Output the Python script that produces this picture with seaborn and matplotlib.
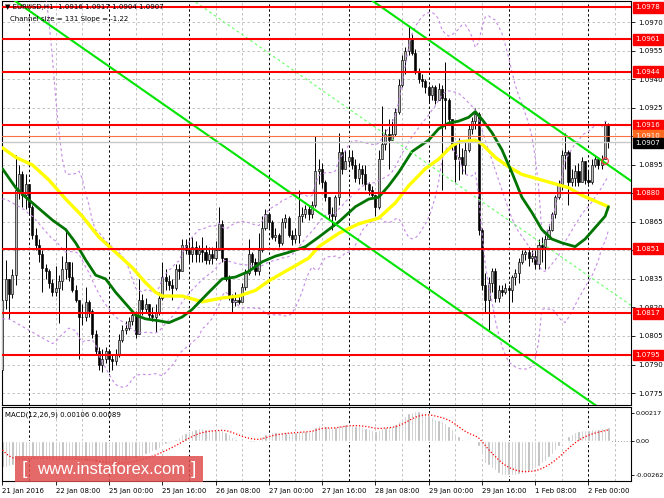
import numpy as np
import pandas as pd
import matplotlib
matplotlib.use("Agg")
import matplotlib.pyplot as plt
import matplotlib.transforms as mtransforms
from matplotlib.patches import Rectangle
import seaborn as sns

# EURUSD H1 candles, one per hour (bar 0 = 21 Jan 16:00)
first_open = 1.0787
closes = [
    1.0824, 1.0835, 1.0827, 1.0837, 1.0882, 1.0890, 1.0879, 1.0885, 1.0873, 1.0858,
    1.0853, 1.0848, 1.0841, 1.0839, 1.0833, 1.0828, 1.0830, 1.0834, 1.0840, 1.0844,
    1.0836, 1.0829, 1.0824, 1.0815, 1.0815, 1.0823, 1.0818, 1.0806, 1.0797, 1.0790,
    1.0793, 1.0797, 1.0793, 1.0792, 1.0795, 1.0803, 1.0808, 1.0809, 1.0813, 1.0816,
    1.0806, 1.0824, 1.0819, 1.0822, 1.0816, 1.0815, 1.0817, 1.0825, 1.0836, 1.0834,
    1.0832, 1.0830, 1.0840, 1.0839, 1.0853, 1.0850, 1.0848, 1.0852, 1.0848, 1.0850,
    1.0849, 1.0845, 1.0848, 1.0846, 1.0850, 1.0864, 1.0846, 1.0835, 1.0826, 1.0823,
    1.0824, 1.0823, 1.0831, 1.0838, 1.0848, 1.0844, 1.0839, 1.0850, 1.0862, 1.0869,
    1.0865, 1.0857, 1.0858, 1.0854, 1.0865, 1.0867, 1.0858, 1.0856, 1.0858, 1.0868,
    1.0869, 1.0872, 1.0869, 1.0874, 1.0892, 1.0893, 1.0886, 1.0878, 1.0869, 1.0868,
    1.0878, 1.0902, 1.0893, 1.0897, 1.0899, 1.0895, 1.0888, 1.0893, 1.0890, 1.0885,
    1.0882, 1.0879, 1.0873, 1.0898, 1.0906, 1.0911, 1.0908, 1.0911, 1.0923, 1.0937,
    1.0950, 1.0955, 1.0961, 1.0954, 1.0944, 1.0940, 1.0939, 1.0936, 1.0932, 1.0936,
    1.0929, 1.0935, 1.0930, 1.0929, 1.0919, 1.0906, 1.0898, 1.0899, 1.0895, 1.0903,
    1.0914, 1.0918, 1.0922, 1.0861, 1.0832, 1.0824, 1.0833, 1.0839, 1.0825, 1.0829,
    1.0828, 1.0830, 1.0829, 1.0836, 1.0838, 1.0844, 1.0848, 1.0849, 1.0846, 1.0847,
    1.0843, 1.0853, 1.0852, 1.0856, 1.0861, 1.0869, 1.0878, 1.0885, 1.0900, 1.0902,
    1.0886, 1.0888, 1.0892, 1.0886, 1.0897, 1.0887, 1.0886, 1.0895, 1.0898, 1.0895,
    1.0898, 1.0916, 1.0907,
]
highs = [
    1.0848, 1.0845, 1.0835, 1.0840, 1.0900, 1.0895, 1.0892, 1.0890, 1.0885, 1.0874,
    1.0862, 1.0856, 1.0850, 1.0843, 1.0840, 1.0835, 1.0842, 1.0837, 1.0847, 1.0861,
    1.0844, 1.0844, 1.0832, 1.0824, 1.0822, 1.0831, 1.0824, 1.0819, 1.0808, 1.0799,
    1.0798, 1.0799, 1.0798, 1.0795, 1.0798, 1.0806, 1.0811, 1.0813, 1.0815, 1.0818,
    1.0818, 1.0835, 1.0827, 1.0825, 1.0821, 1.0820, 1.0822, 1.0828, 1.0844, 1.0840,
    1.0837, 1.0835, 1.0843, 1.0843, 1.0856, 1.0856, 1.0856, 1.0857, 1.0855, 1.0853,
    1.0857, 1.0853, 1.0852, 1.0852, 1.0855, 1.0873, 1.0866, 1.0846, 1.0837, 1.0827,
    1.0828, 1.0826, 1.0833, 1.0840, 1.0856, 1.0849, 1.0846, 1.0859, 1.0868, 1.0872,
    1.0870, 1.0866, 1.0862, 1.0859, 1.0867, 1.0869, 1.0868, 1.0861, 1.0862, 1.0882,
    1.0873, 1.0874, 1.0874, 1.0876, 1.0910, 1.0898, 1.0896, 1.0887, 1.0878, 1.0873,
    1.0879, 1.0912, 1.0904, 1.0903, 1.0903, 1.0903, 1.0898, 1.0896, 1.0895, 1.0895,
    1.0886, 1.0884, 1.0878, 1.0903, 1.0926, 1.0914, 1.0919, 1.0919, 1.0925, 1.0940,
    1.0953, 1.0957, 1.0968, 1.0964, 1.0956, 1.0946, 1.0943, 1.0940, 1.0937, 1.0937,
    1.0937, 1.0938, 1.0937, 1.0949, 1.0930, 1.0919, 1.0906, 1.0909, 1.0904, 1.0908,
    1.0916, 1.0920, 1.0925, 1.0923, 1.0862, 1.0838, 1.0836, 1.0841, 1.0841, 1.0832,
    1.0832, 1.0833, 1.0832, 1.0837, 1.0840, 1.0846, 1.0850, 1.0850, 1.0852, 1.0850,
    1.0850, 1.0856, 1.0857, 1.0858, 1.0864, 1.0870, 1.0879, 1.0887, 1.0903, 1.0912,
    1.0903, 1.0893, 1.0895, 1.0896, 1.0899, 1.0895, 1.0892, 1.0898, 1.0900, 1.0899,
    1.0900, 1.0918, 1.0917,
]
lows = [
    1.0778, 1.0819, 1.0814, 1.0825, 1.0832, 1.0877, 1.0873, 1.0872, 1.0869, 1.0856,
    1.0850, 1.0844, 1.0828, 1.0835, 1.0830, 1.0826, 1.0826, 1.0812, 1.0829, 1.0835,
    1.0834, 1.0828, 1.0823, 1.0793, 1.0811, 1.0813, 1.0815, 1.0804, 1.0795, 1.0787,
    1.0786, 1.0791, 1.0786, 1.0787, 1.0790, 1.0794, 1.0802, 1.0806, 1.0808, 1.0811,
    1.0804, 1.0806, 1.0816, 1.0817, 1.0814, 1.0813, 1.0807, 1.0816, 1.0824, 1.0829,
    1.0829, 1.0824, 1.0829, 1.0835, 1.0839, 1.0848, 1.0844, 1.0844, 1.0844, 1.0844,
    1.0844, 1.0843, 1.0843, 1.0843, 1.0845, 1.0852, 1.0844, 1.0834, 1.0824, 1.0817,
    1.0821, 1.0822, 1.0823, 1.0829, 1.0837, 1.0841, 1.0837, 1.0837, 1.0849, 1.0861,
    1.0862, 1.0856, 1.0855, 1.0852, 1.0853, 1.0862, 1.0857, 1.0853, 1.0854, 1.0854,
    1.0865, 1.0867, 1.0866, 1.0867, 1.0873, 1.0885, 1.0883, 1.0876, 1.0866, 1.0861,
    1.0866, 1.0874, 1.0890, 1.0893, 1.0895, 1.0893, 1.0886, 1.0885, 1.0885, 1.0882,
    1.0879, 1.0878, 1.0868, 1.0872, 1.0898, 1.0903, 1.0893, 1.0908, 1.0910, 1.0922,
    1.0936, 1.0943, 1.0953, 1.0953, 1.0943, 1.0938, 1.0936, 1.0933, 1.0928, 1.0929,
    1.0927, 1.0929, 1.0882, 1.0914, 1.0916, 1.0903, 1.0886, 1.0887, 1.0890, 1.0890,
    1.0902, 1.0911, 1.0914, 1.0858, 1.0829, 1.0817, 1.0808, 1.0828, 1.0823, 1.0823,
    1.0826, 1.0827, 1.0814, 1.0823, 1.0832, 1.0833, 1.0843, 1.0845, 1.0842, 1.0844,
    1.0840, 1.0840, 1.0844, 1.0840, 1.0856, 1.0860, 1.0867, 1.0877, 1.0882, 1.0893,
    1.0874, 1.0884, 1.0884, 1.0884, 1.0886, 1.0885, 1.0885, 1.0885, 1.0894, 1.0893,
    1.0893, 1.0898, 1.0904,
]

# moving averages (bar, price)
green_ma_bars = [0, 4, 7, 11, 15, 19, 22, 25, 28, 31, 34, 37, 40, 43, 47, 50, 54, 57,
                 62, 66, 70, 74, 78, 82, 86, 91, 95, 101, 106, 110, 113, 116, 119, 123,
                 128, 131, 134, 137, 140, 142, 144, 147, 150, 153, 156, 159, 162, 165,
                 168, 172, 175, 178, 181, 182]
green_ma_vals = [1.0893, 1.0883, 1.0878, 1.0872, 1.0866, 1.0861, 1.0854, 1.0845, 1.0837,
                 1.0835, 1.0828, 1.0822, 1.0816, 1.0814, 1.0813, 1.0812, 1.0815, 1.0819,
                 1.0828, 1.0835, 1.0836, 1.0839, 1.0844, 1.0847, 1.0849, 1.0852, 1.0857,
                 1.0865, 1.0873, 1.0877, 1.0878, 1.0884, 1.0891, 1.0902, 1.0908, 1.0914,
                 1.0917, 1.0918, 1.0920, 1.0923, 1.0919, 1.0912, 1.0903, 1.0891, 1.0878,
                 1.0870, 1.0861, 1.0856, 1.0854, 1.0852, 1.0856, 1.0862, 1.0868, 1.0873]
yellow_ma_bars = [0, 4, 9, 14, 19, 24, 29, 34, 39, 43, 46, 48, 54, 60, 66, 71, 76, 80,
                  86, 92, 95, 101, 107, 113, 118, 122, 127, 131, 135, 137, 142, 144, 148,
                  152, 156, 162, 166, 170, 174, 178, 182]
yellow_ma_vals = [1.0904, 1.0899, 1.0895, 1.0887, 1.0877, 1.0868, 1.0857, 1.0849, 1.0841,
                  1.0833, 1.0828, 1.0826, 1.0826, 1.0823, 1.0825, 1.0826, 1.0829, 1.0834,
                  1.0840, 1.0846, 1.0852, 1.0859, 1.0864, 1.0867, 1.0875, 1.0884, 1.0893,
                  1.0898, 1.0905, 1.0907, 1.0908, 1.0906, 1.0899, 1.0894, 1.0890, 1.0887,
                  1.0885, 1.0883, 1.0879, 1.0876, 1.0873]

# Bollinger bands (20, 2): first bars, the rest from the closes
bb_upper_early = [1.0995] * 13 + [1.0985, 1.0970, 1.0952, 1.0930, 1.0912, 1.0898]
bb_mid_early = [1.0877, 1.0877, 1.0876, 1.0875, 1.0874, 1.0873, 1.0872, 1.0871, 1.0869,
                1.0868, 1.0866, 1.0864, 1.0862, 1.0860, 1.0858, 1.0856, 1.0855, 1.0853,
                1.0851]
bb_lower_early = [1.0814, 1.0814, 1.0814, 1.0813, 1.0812, 1.0811, 1.0810, 1.0809, 1.0808,
                  1.0807, 1.0806, 1.0805, 1.0804, 1.0803, 1.0802, 1.0801, 1.0802, 1.0804,
                  1.0806]

# MACD(12,26,9) main (histogram) and signal, in units of 1e-5
macd_main_e5 = [
    -200, -196, -192, -185, -165, -150, -138, -130, -127, -128,
    -130, -132, -134, -136, -138, -140, -141, -140, -138, -136,
    -136, -138, -141, -145, -148, -150, -152, -156, -162, -170,
    -175, -177, -178, -178, -176, -171, -164, -156, -148, -140,
    -136, -124, -112, -100, -90, -80, -70, -57, -40, -25,
    -12, 2, 18, 32, 50, 65, 78, 88, 95, 97,
    96, 93, 90, 88, 87, 90, 85, 70, 50, 33,
    18, 5, -2, -4, 0, -3, -2, 13, 35, 55,
    65, 68, 70, 68, 70, 72, 70, 68, 70, 75,
    77, 77, 78, 85, 110, 120, 118, 112, 105, 100,
    105, 120, 125, 127, 128, 125, 118, 112, 108, 100,
    92, 85, 78, 88, 100, 110, 112, 118, 130, 150,
    175, 195, 212, 225, 230, 228, 222, 212, 200, 185,
    172, 162, 150, 140, 118, 90, 60, 35, 15, 8,
    5, 5, 3, -40, -110, -165, -185, -205, -225, -245,
    -258, -262, -262, -260, -258, -255, -250, -242, -232, -222,
    -210, -192, -172, -150, -125, -98, -70, -42, -12, 15,
    40, 55, 68, 75, 82, 85, 88, 90, 93, 95,
    97, 103, 106,
]
macd_signal_e5 = [
    -69, -94, -114, -128, -135, -138, -138, -137, -135, -134,
    -133, -133, -133, -134, -135, -136, -137, -138, -138, -138,
    -138, -138, -138, -139, -141, -143, -145, -147, -150, -154,
    -158, -162, -165, -168, -170, -170, -169, -167, -164, -160,
    -155, -149, -142, -134, -125, -116, -107, -97, -86, -74,
    -62, -49, -36, -22, -8, 7, 21, 34, 46, 56,
    64, 70, 74, 77, 79, 81, 82, 80, 74, 66,
    56, 46, 36, 28, 22, 17, 13, 13, 17, 25,
    33, 40, 46, 50, 54, 58, 60, 62, 64, 66,
    68, 70, 72, 75, 82, 90, 96, 99, 100, 100,
    101, 105, 109, 113, 116, 118, 118, 117, 115, 112,
    108, 103, 98, 96, 97, 100, 102, 105, 110, 118,
    129, 142, 156, 170, 182, 191, 197, 200, 200, 197,
    192, 186, 179, 171, 160, 146, 129, 110, 91, 74,
    60, 49, 40, 24, -3, -35, -65, -93, -119, -144,
    -167, -186, -201, -213, -222, -229, -233, -235, -234, -232,
    -228, -221, -211, -199, -184, -167, -148, -127, -104, -80,
    -56, -34, -14, 4, 20, 33, 44, 53, 61, 68,
    74, 80, 85,
]

# regression channel: upper line price at anchor bar, width and slope per bar
channel_anchor_bar = 154
channel_upper_at_anchor = 1.0929
channel_size = 0.0131
channel_slope = -0.000122

levels = [1.0978, 1.0961, 1.0944, 1.0916, 1.0880, 1.0851, 1.0817, 1.0795]
bid_line = 1.0910
last_price = 1.0907
marker_bar = [181]
marker_price = [1.0897]

price_ticks = [1.0775, 1.0790, 1.0805, 1.0820, 1.0835, 1.0850, 1.0865, 1.0880,
               1.0895, 1.0910, 1.0925, 1.0940, 1.0955, 1.0970]
hidden_tick_labels = [1.0850, 1.0880, 1.0910]   # covered by the level boxes
time_tick_bars = [0, 16, 32, 48, 64, 80, 96, 112, 128, 144, 160, 176]
time_tick_labels = ["21 Jan 2016", "22 Jan 08:00", "25 Jan 00:00", "25 Jan 16:00",
                    "26 Jan 08:00", "27 Jan 00:00", "27 Jan 16:00", "28 Jan 08:00",
                    "29 Jan 00:00", "29 Jan 16:00", "1 Feb 08:00", "2 Feb 00:00"]
day_separators = [8, 32, 56, 80, 104, 128, 152, 176]
macd_ticks = [-0.00262, 0.0, 0.00217]
macd_tick_labels = ["-0.00262", "0.00", "0.00217"]

# ---------------------------------------------------------------
sns.set_theme(style="white")
plt.rcParams["font.family"] = ["DejaVu Sans"]
plt.rcParams["axes.edgecolor"] = "#000000"
plt.rcParams["axes.linewidth"] = 0.8
plt.rcParams["axes.unicode_minus"] = False

n = min(len(closes), len(highs), len(lows), len(macd_main_e5), len(macd_signal_e5))
bars = np.arange(n)
c = np.array(closes[:n])
o = np.array([first_open] + closes[:n - 1])
h = np.maximum(np.array(highs[:n]), np.maximum(o, c))
l = np.minimum(np.array(lows[:n]), np.minimum(o, c))

close_s = pd.Series(c)
mid = close_s.rolling(20).mean()
sd = close_s.rolling(20).std(ddof=0)
bb_mid = mid.to_numpy().copy()
bb_up = (mid + 2 * sd).to_numpy().copy()
bb_lo = (mid - 2 * sd).to_numpy().copy()
k = len(bb_mid_early)
bb_mid[:k] = bb_mid_early
bb_up[:k] = bb_upper_early
bb_lo[:k] = bb_lower_early

macd_main = np.array(macd_main_e5[:n]) * 1e-5
macd_signal = np.array(macd_signal_e5[:n]) * 1e-5

W, H = 664, 498
fig = plt.figure(figsize=(W / 100, H / 100), dpi=100)
fig.patch.set_facecolor("white")
ax = fig.add_axes([2 / W, 1 - 405 / H, 629 / W, 404 / H])
ax2 = fig.add_axes([2 / W, 17 / H, 629 / W, 74 / H])

xlim = (-0.12, 188.77)
for a in (ax, ax2):
    a.set_xlim(*xlim)
    a.set_facecolor("white")
    for s in a.spines.values():
        s.set_color("#000000")
        s.set_linewidth(0.8)
    # vertical grid every 8 bars, day separators in black
    for b in range(8, 190, 8):
        if b in day_separators:
            a.axvline(b, color="#000000", lw=0.7, ls=(0, (2.5, 2.5)), zorder=0.6)
        else:
            a.axvline(b, color="#b8b8b8", lw=0.6, ls=(0, (3, 3)), zorder=0.5)

ax.set_ylim(1.07687, 1.09812)
for p in price_ticks:
    ax.axhline(p, color="#b8b8b8", lw=0.6, ls=(0, (3, 3)), zorder=0.5)

# candles
up = c >= o
body_lo = np.minimum(o, c)
body_h = np.maximum(np.abs(c - o), 0.00002)
ax.vlines(bars, l, h, color="#000000", lw=0.7, zorder=2)
ax.bar(bars[up], body_h[up], bottom=body_lo[up], width=0.62, color="#bcbcbc",
       edgecolor="#000000", linewidth=0.45, zorder=3)
ax.bar(bars[~up], body_h[~up], bottom=body_lo[~up], width=0.62, color="#000000",
       edgecolor="#000000", linewidth=0.45, zorder=3)

# Bollinger bands
for band in (bb_up, bb_mid, bb_lo):
    sns.lineplot(x=bars, y=band, ax=ax, color="#c58be6", lw=0.8,
                 linestyle=(0, (2.5, 2.5)), zorder=4)

# moving averages
sns.lineplot(x=yellow_ma_bars, y=yellow_ma_vals, ax=ax, color="#ffff00", lw=2.4, zorder=5)
sns.lineplot(x=green_ma_bars, y=green_ma_vals, ax=ax, color="#007400", lw=2.0, zorder=5)

# regression channel
ch_x = np.array([0, 189])
ch_up = channel_upper_at_anchor + channel_slope * (ch_x - channel_anchor_bar)
sns.lineplot(x=ch_x, y=ch_up, ax=ax, color="#00e400", lw=1.5, zorder=6)
sns.lineplot(x=ch_x, y=ch_up - channel_size, ax=ax, color="#00e400", lw=1.5, zorder=6)
sns.lineplot(x=ch_x, y=ch_up - channel_size / 2, ax=ax, color="#66ff66", lw=0.8,
             linestyle=(0, (2.5, 2.5)), zorder=6)

# horizontal levels
for lv in levels:
    ax.axhline(lv, color="#ff0000", lw=1.5, zorder=7)
ax.axhline(bid_line, color="#ff7040", lw=0.8, zorder=7)
ax.axhline(last_price, color="#c8c8c8", lw=1.0, zorder=7)

ax.scatter(marker_bar, marker_price, s=22, facecolors="none", edgecolors="#ff3030",
           linewidths=0.8, zorder=8)

# right price axis
ax.yaxis.tick_right()
ax.set_yticks(price_ticks)
ax.set_yticklabels(["" if any(abs(p - q) < 1e-6 for q in hidden_tick_labels)
                    else f"{p:.4f}" for p in price_ticks])
ax.tick_params(axis="y", which="both", right=True, length=3, width=0.6, pad=2,
               labelsize=5, colors="#000000")
ax.tick_params(axis="x", length=0, labelbottom=False)
ax.set_xlabel("")
ax.set_ylabel("")

trans = mtransforms.blended_transform_factory(ax.transAxes, ax.transData)
for lv in levels:
    ax.text(1.0075, lv, f"{lv:.4f}", transform=trans, fontsize=5, color="white",
            va="center", ha="left", clip_on=False, zorder=10,
            bbox=dict(boxstyle="square,pad=0.35", fc="#ff0000", ec="#ff0000"))
ax.text(1.0075, bid_line + 0.00003, f"{bid_line:.4f}", transform=trans, fontsize=5,
        color="white", va="center", ha="left", clip_on=False, zorder=10,
        bbox=dict(boxstyle="square,pad=0.35", fc="#ff6a20", ec="#ff6a20"))
ax.text(1.0075, last_price - 0.00005, f"{last_price:.4f}", transform=trans, fontsize=5,
        color="white", va="center", ha="left", clip_on=False, zorder=11,
        bbox=dict(boxstyle="square,pad=0.35", fc="#000000", ec="#000000"))

# MACD panel
ax2.set_ylim(-0.00307, 0.00261)
ax2.axhline(0, color="#a0a0a0", lw=0.7, ls=(0, (1, 2)), zorder=0.7)
ax2.bar(bars, macd_main, width=0.7, color="#b8b8b8", zorder=2)
sns.lineplot(x=bars, y=macd_signal, ax=ax2, color="#ff0000", lw=0.9,
             linestyle=(0, (1, 1.5)), zorder=3)
ax2.yaxis.tick_right()
ax2.set_yticks(macd_ticks)
ax2.set_yticklabels(macd_tick_labels)
ax2.tick_params(axis="y", right=True, length=2, width=0.6, pad=1.5, labelsize=4.6,
                colors="#000000")
ax2.set_xticks(time_tick_bars)
ax2.set_xticklabels(time_tick_labels, ha="left")
ax2.tick_params(axis="x", bottom=True, length=3, width=0.6, pad=2, labelsize=5,
                colors="#000000")
ax2.set_xlabel("")
ax2.set_ylabel("")
ax2.text(0.005, 0.9, "MACD(12,26,9) 0.00106 0.00089", transform=ax2.transAxes,
         fontsize=5, va="center", ha="left", color="#000000")

# chart header
fig.text(5 / W, 1 - 7 / H, "\u25bc EURUSD,H1  1.0916 1.0917 1.0904 1.0907",
         fontsize=5, va="center", ha="left", color="#000000")
fig.text(10 / W, 1 - 19 / H, "Channel size = 131 Slope = -1.22",
         fontsize=5, va="center", ha="left", color="#000000")

# watermark
fig.patches.append(Rectangle((15 / W, 1 - 482 / H), 188 / W, 26 / H,
                             transform=fig.transFigure, fc="#e05050", ec="none",
                             alpha=0.85, zorder=20))
fig.text(24 / W, 1 - 469 / H, "[", fontsize=14, color="white", va="center",
         ha="center", zorder=21, family=["Liberation Sans", "DejaVu Sans"])
fig.text(111 / W, 1 - 469 / H, "www.instaforex.com", fontsize=12, color="white",
         va="center", ha="center", zorder=21, family=["Liberation Sans", "DejaVu Sans"])
fig.text(194 / W, 1 - 469 / H, "]", fontsize=14, color="white", va="center",
         ha="center", zorder=21, family=["Liberation Sans", "DejaVu Sans"])

fig.savefig("out.png", dpi=100, facecolor="white")
